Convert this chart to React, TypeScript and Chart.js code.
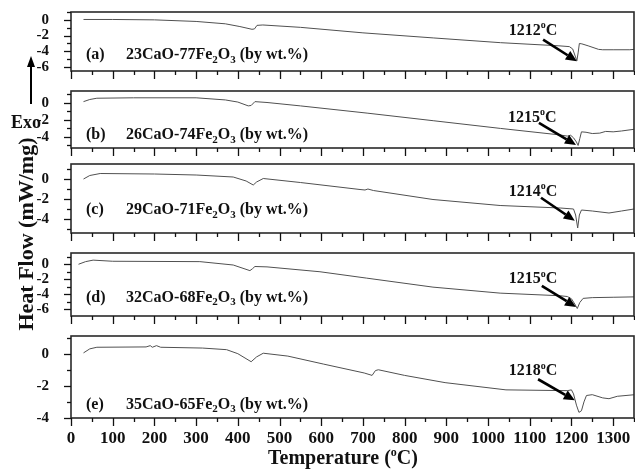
import React, { useEffect, useRef } from 'react';
import { Chart, registerables } from 'chart.js';

Chart.register(...registerables);

const FONT = '"Liberation Serif", "Times New Roman", serif';

// ---- data ----
const xTickLabels = [0, 100, 200, 300, 400, 500, 600, 700, 800, 900, 1000, 1100, 1200, 1300];
const xMinorTicks = [50, 150, 250, 350, 450, 550, 650, 750, 850, 950, 1050, 1150, 1250, 1350];

const tempA = [30, 100, 200, 300, 370, 405, 434, 440, 446, 460, 550, 700, 870, 1030, 1170, 1195, 1203, 1209, 1213, 1216, 1219, 1225, 1240, 1265, 1275, 1300, 1340, 1350];
const flowA = [0.05, 0.05, 0.0, -0.2, -0.5, -0.85, -1.2, -1.15, -0.7, -0.65, -0.95, -1.65, -2.3, -2.9, -3.3, -3.4, -3.7, -4.6, -5.2, -4.2, -3.0, -3.05, -3.3, -3.75, -3.8, -3.8, -3.8, -3.75];

const tempB = [30, 45, 62, 150, 300, 370, 400, 425, 432, 441, 470, 550, 710, 870, 1030, 1170, 1190, 1198, 1205, 1212, 1216, 1220, 1224, 1235, 1250, 1268, 1282, 1300, 1320, 1350];
const flowB = [0.15, 0.4, 0.55, 0.6, 0.6, 0.35, 0.1, -0.35, -0.3, 0.15, 0.05, -0.35, -1.2, -2.1, -3.0, -3.75, -3.9, -3.8, -4.1, -4.6, -5.0, -4.2, -3.4, -3.45, -3.6, -3.55, -3.35, -3.4, -3.3, -3.1];

const tempC = [30, 45, 70, 200, 300, 389, 420, 437, 445, 461, 550, 693, 705, 712, 725, 868, 1029, 1173, 1205, 1210, 1215, 1219, 1224, 1250, 1290, 1320, 1350];
const flowC = [0.0, 0.35, 0.55, 0.5, 0.4, 0.2, -0.2, -0.6, -0.3, 0.05, -0.35, -1.05, -1.1, -1.0, -1.15, -2.05, -2.65, -2.9, -3.0, -3.6, -4.9, -3.6, -3.1, -3.2, -3.4, -3.2, -3.0];

const tempD = [18, 35, 53, 100, 309, 389, 429, 435, 441, 470, 597, 709, 868, 1029, 1173, 1190, 1200, 1208, 1214, 1220, 1228, 1250, 1300, 1350];
const flowD = [0.0, 0.35, 0.55, 0.4, 0.35, -0.1, -0.85, -0.6, -0.3, -0.35, -1.0, -1.85, -3.05, -3.85, -4.2, -4.3, -4.6, -5.3, -5.9, -5.1, -4.55, -4.45, -4.4, -4.35];

const tempE = [30, 45, 62, 180, 190, 195, 205, 215, 315, 373, 400, 432, 445, 461, 520, 606, 703, 722, 730, 737, 800, 897, 1043, 1190, 1200, 1205, 1212, 1218, 1224, 1230, 1236, 1250, 1275, 1290, 1310, 1352];
const flowE = [0.05, 0.3, 0.4, 0.42, 0.5, 0.4, 0.5, 0.4, 0.35, 0.25, 0.0, -0.5, -0.2, 0.03, -0.15, -0.65, -1.2, -1.35, -1.05, -1.0, -1.35, -1.8, -2.25, -2.3, -2.25, -2.5, -3.2, -3.65, -3.55, -3.0, -2.6, -2.55, -2.75, -2.8, -2.65, -2.55];

const panelLetters = ['(a)', '(b)', '(c)', '(d)', '(e)'];
const caoPercent = [23, 26, 29, 32, 35];
const fe2o3Percent = [77, 74, 71, 68, 65];
const peakTemps = [1212, 1215, 1214, 1215, 1218];

const yLabelsA = [0, -2, -4, -6];
const yLabelsB = [0, -2, -4];
const yLabelsC = [0, -2, -4];
const yLabelsD = [0, -2, -4, -6];
const yLabelsE = [0, -2, -4];

// ---- layout (positions only) ----
const panels = [
  { temps: tempA, flows: flowA, yLabels: yLabelsA, top: 12, bottom: 71, yMin: -6.5, yMax: 1.0, textY: -4.5, peakLabel: [1108, -1.375], arrowFrom: [1132, -2.5], arrowTo: [1213, -5.25] },
  { temps: tempB, flows: flowB, yLabels: yLabelsB, top: 91, bottom: 148, yMin: -5.3, yMax: 1.4, textY: -3.76, peakLabel: [1106, -1.76], arrowFrom: [1122, -2.35], arrowTo: [1211, -4.94] },
  { temps: tempC, flows: flowC, yLabels: yLabelsC, top: 164, bottom: 233, yMin: -5.4, yMax: 1.5, textY: -3.07, peakLabel: [1108, -1.27], arrowFrom: [1127, -1.87], arrowTo: [1208, -4.17] },
  { temps: tempD, flows: flowD, yLabels: yLabelsD, top: 253, bottom: 316, yMin: -6.9, yMax: 1.5, textY: -4.43, peakLabel: [1108, -1.96], arrowFrom: [1129, -2.89], arrowTo: [1211, -5.69] },
  { temps: tempE, flows: flowE, yLabels: yLabelsE, top: 336, bottom: 418, yMin: -4.0, yMax: 1.1, textY: -3.16, peakLabel: [1108, -1.09], arrowFrom: [1120, -1.59], arrowTo: [1208, -2.9] },
];

const PAD_TOP = 4;
const BOTTOM_SPACE = 10;
const LAST_BOTTOM_SPACE = 52;

function drawArrow(ctx: CanvasRenderingContext2D, x1: number, y1: number, x2: number, y2: number, head: number) {
  const ang = Math.atan2(y2 - y1, x2 - x1);
  const bx = x2 - head * Math.cos(ang);
  const by = y2 - head * Math.sin(ang);
  ctx.beginPath();
  ctx.moveTo(x1, y1);
  ctx.lineTo(bx, by);
  ctx.stroke();
  const w = head * 0.45;
  ctx.beginPath();
  ctx.moveTo(x2, y2);
  ctx.lineTo(bx + w * Math.sin(ang), by - w * Math.cos(ang));
  ctx.lineTo(bx - w * Math.sin(ang), by + w * Math.cos(ang));
  ctx.closePath();
  ctx.fill();
}

const decoPlugin = {
  id: 'panelDeco',
  afterDatasetsDraw(chart: any, _args: any, opts: any) {
    const idx: number = opts.idx;
    const p = panels[idx];
    const { ctx, chartArea: ca } = chart;
    const x = chart.scales.x;
    const y = chart.scales.y;
    ctx.save();
    // frame
    ctx.strokeStyle = '#2a2a2a';
    ctx.lineWidth = 1.6;
    ctx.strokeRect(ca.left, ca.top, ca.right - ca.left, ca.bottom - ca.top);
    // x ticks (outward, below)
    ctx.strokeStyle = '#111';
    ctx.lineWidth = 1.3;
    const allX = [...xTickLabels.map((v) => [v, 8]), ...xMinorTicks.map((v) => [v, 4])];
    for (const [v, len] of allX) {
      const px = Math.round(x.getPixelForValue(v)) + 0.5;
      ctx.beginPath();
      ctx.moveTo(px, ca.bottom);
      ctx.lineTo(px, ca.bottom + len);
      ctx.stroke();
    }
    // y ticks (outward, left)
    for (let v = Math.ceil(p.yMin); v <= Math.floor(p.yMax); v++) {
      const py = Math.round(y.getPixelForValue(v)) + 0.5;
      const len = v % 2 === 0 ? 7 : 4;
      ctx.beginPath();
      ctx.moveTo(ca.left - len, py);
      ctx.lineTo(ca.left, py);
      ctx.stroke();
    }
    // composition label
    ctx.fillStyle = '#111';
    ctx.textBaseline = 'middle';
    ctx.textAlign = 'left';
    const ty = y.getPixelForValue(p.textY);
    ctx.font = `bold 16px ${FONT}`;
    ctx.fillText(panelLetters[idx], x.getPixelForValue(36), ty);
    const parts: [string, boolean][] = [
      [`${caoPercent[idx]}CaO-${fe2o3Percent[idx]}Fe`, false],
      ['2', true],
      ['O', false],
      ['3', true],
      [' (by wt.%)', false],
    ];
    let cx = x.getPixelForValue(132);
    for (const [t, sub] of parts) {
      ctx.font = sub ? `bold 11px ${FONT}` : `bold 16px ${FONT}`;
      ctx.fillText(t, cx, sub ? ty + 5 : ty);
      cx += ctx.measureText(t).width;
    }
    // peak temperature label
    const lx = x.getPixelForValue(p.peakLabel[0]);
    const ly = y.getPixelForValue(p.peakLabel[1]);
    const main = String(peakTemps[idx]);
    ctx.font = `bold 16px ${FONT}`;
    const wMain = ctx.measureText(main).width;
    const wC = ctx.measureText('C').width;
    ctx.font = `bold 10px ${FONT}`;
    const wO = ctx.measureText('o').width;
    let sx = lx - (wMain + wO + wC) / 2;
    ctx.font = `bold 16px ${FONT}`;
    ctx.fillText(main, sx, ly);
    sx += wMain;
    ctx.font = `bold 10px ${FONT}`;
    ctx.fillText('o', sx, ly - 5);
    sx += wO;
    ctx.font = `bold 16px ${FONT}`;
    ctx.fillText('C', sx, ly);
    // arrow
    ctx.strokeStyle = '#000';
    ctx.fillStyle = '#000';
    ctx.lineWidth = 2.6;
    drawArrow(
      ctx,
      x.getPixelForValue(p.arrowFrom[0]),
      y.getPixelForValue(p.arrowFrom[1]),
      x.getPixelForValue(p.arrowTo[0]),
      y.getPixelForValue(p.arrowTo[1]),
      11
    );
    ctx.restore();
  },
};

function Panel({ idx }: { idx: number }) {
  const ref = useRef<HTMLCanvasElement | null>(null);
  const p = panels[idx];
  const last = idx === panels.length - 1;
  const bottomSpace = last ? LAST_BOTTOM_SPACE : BOTTOM_SPACE;
  const height = p.bottom - p.top + PAD_TOP + bottomSpace;

  useEffect(() => {
    if (!ref.current) return;
    const chart = new Chart(ref.current, {
      type: 'line',
      data: {
        datasets: [
          {
            data: p.temps.map((t, i) => ({ x: t, y: p.flows[i] })),
            borderColor: '#505050',
            borderWidth: 1,
            pointRadius: 0,
            tension: 0,
            fill: false,
          },
        ],
      },
      options: {
        responsive: false,
        animation: false,
        devicePixelRatio: 1,
        layout: { padding: { top: PAD_TOP, right: 1, left: 0, bottom: 0 } },
        plugins: {
          legend: { display: false },
          tooltip: { enabled: false },
          panelDeco: { idx },
        } as any,
        scales: {
          x: {
            type: 'linear',
            min: 0,
            max: 1350,
            grid: { display: false },
            border: { display: false },
            afterBuildTicks: (s: any) => {
              s.ticks = xTickLabels.map((v) => ({ value: v }));
            },
            afterFit: (s: any) => {
              s.height = bottomSpace;
              s.paddingLeft = 0;
              s.paddingRight = 0;
            },
            ticks: {
              display: last,
              autoSkip: false,
              maxRotation: 0,
              minRotation: 0,
              padding: 2,
              color: '#111',
              font: { family: FONT, size: 17, weight: 'bold' },
              callback: (v: any) => String(v),
            },
          },
          y: {
            type: 'linear',
            min: p.yMin,
            max: p.yMax,
            grid: { display: false },
            border: { display: false },
            afterBuildTicks: (s: any) => {
              s.ticks = p.yLabels.map((v) => ({ value: v }));
            },
            afterFit: (s: any) => {
              s.width = 71;
              s.paddingTop = 0;
              s.paddingBottom = 0;
            },
            ticks: {
              autoSkip: false,
              padding: 14,
              color: '#111',
              font: { family: FONT, size: 15, weight: 'bold' },
              callback: (v: any) => String(v),
            },
          },
        },
      },
      plugins: [decoPlugin as any],
    });
    return () => chart.destroy();
  }, []);

  return (
    <canvas
      ref={ref}
      width={635}
      height={height}
      style={{ position: 'absolute', left: 0, top: p.top - PAD_TOP, width: 635, height }}
    />
  );
}

export default function App() {
  return (
    <div style={{ position: 'absolute', left: 0, top: 0, width: 635, height: 470, background: '#fff', overflow: 'hidden' }}>
      {panels.map((_, i) => (
        <Panel key={i} idx={i} />
      ))}
      {/* Y axis title */}
      <div
        style={{
          position: 'absolute',
          left: 26,
          top: 234,
          transform: 'translate(-50%, -50%) rotate(-90deg)',
          whiteSpace: 'nowrap',
          font: `bold 22px ${FONT}`,
          color: '#111',
        }}
      >
        Heat Flow (mW/mg)
      </div>
      {/* Exo label and arrow */}
      <div style={{ position: 'absolute', left: 11, top: 111, font: `bold 18px ${FONT}`, color: '#111', lineHeight: '22px' }}>Exo</div>
      <div style={{ position: 'absolute', left: 29.5, top: 66, width: 2.6, height: 38, background: '#000' }} />
      <div
        style={{
          position: 'absolute',
          left: 26.5,
          top: 56,
          width: 0,
          height: 0,
          borderLeft: '4.3px solid transparent',
          borderRight: '4.3px solid transparent',
          borderBottom: '11px solid #000',
        }}
      />
      {/* X axis title */}
      <div
        style={{
          position: 'absolute',
          left: 343,
          top: 457,
          transform: 'translate(-50%, -50%)',
          whiteSpace: 'nowrap',
          font: `bold 20px ${FONT}`,
          color: '#111',
        }}
      >
        Temperature (<sup style={{ fontSize: 12 }}>o</sup>C)
      </div>
    </div>
  );
}
